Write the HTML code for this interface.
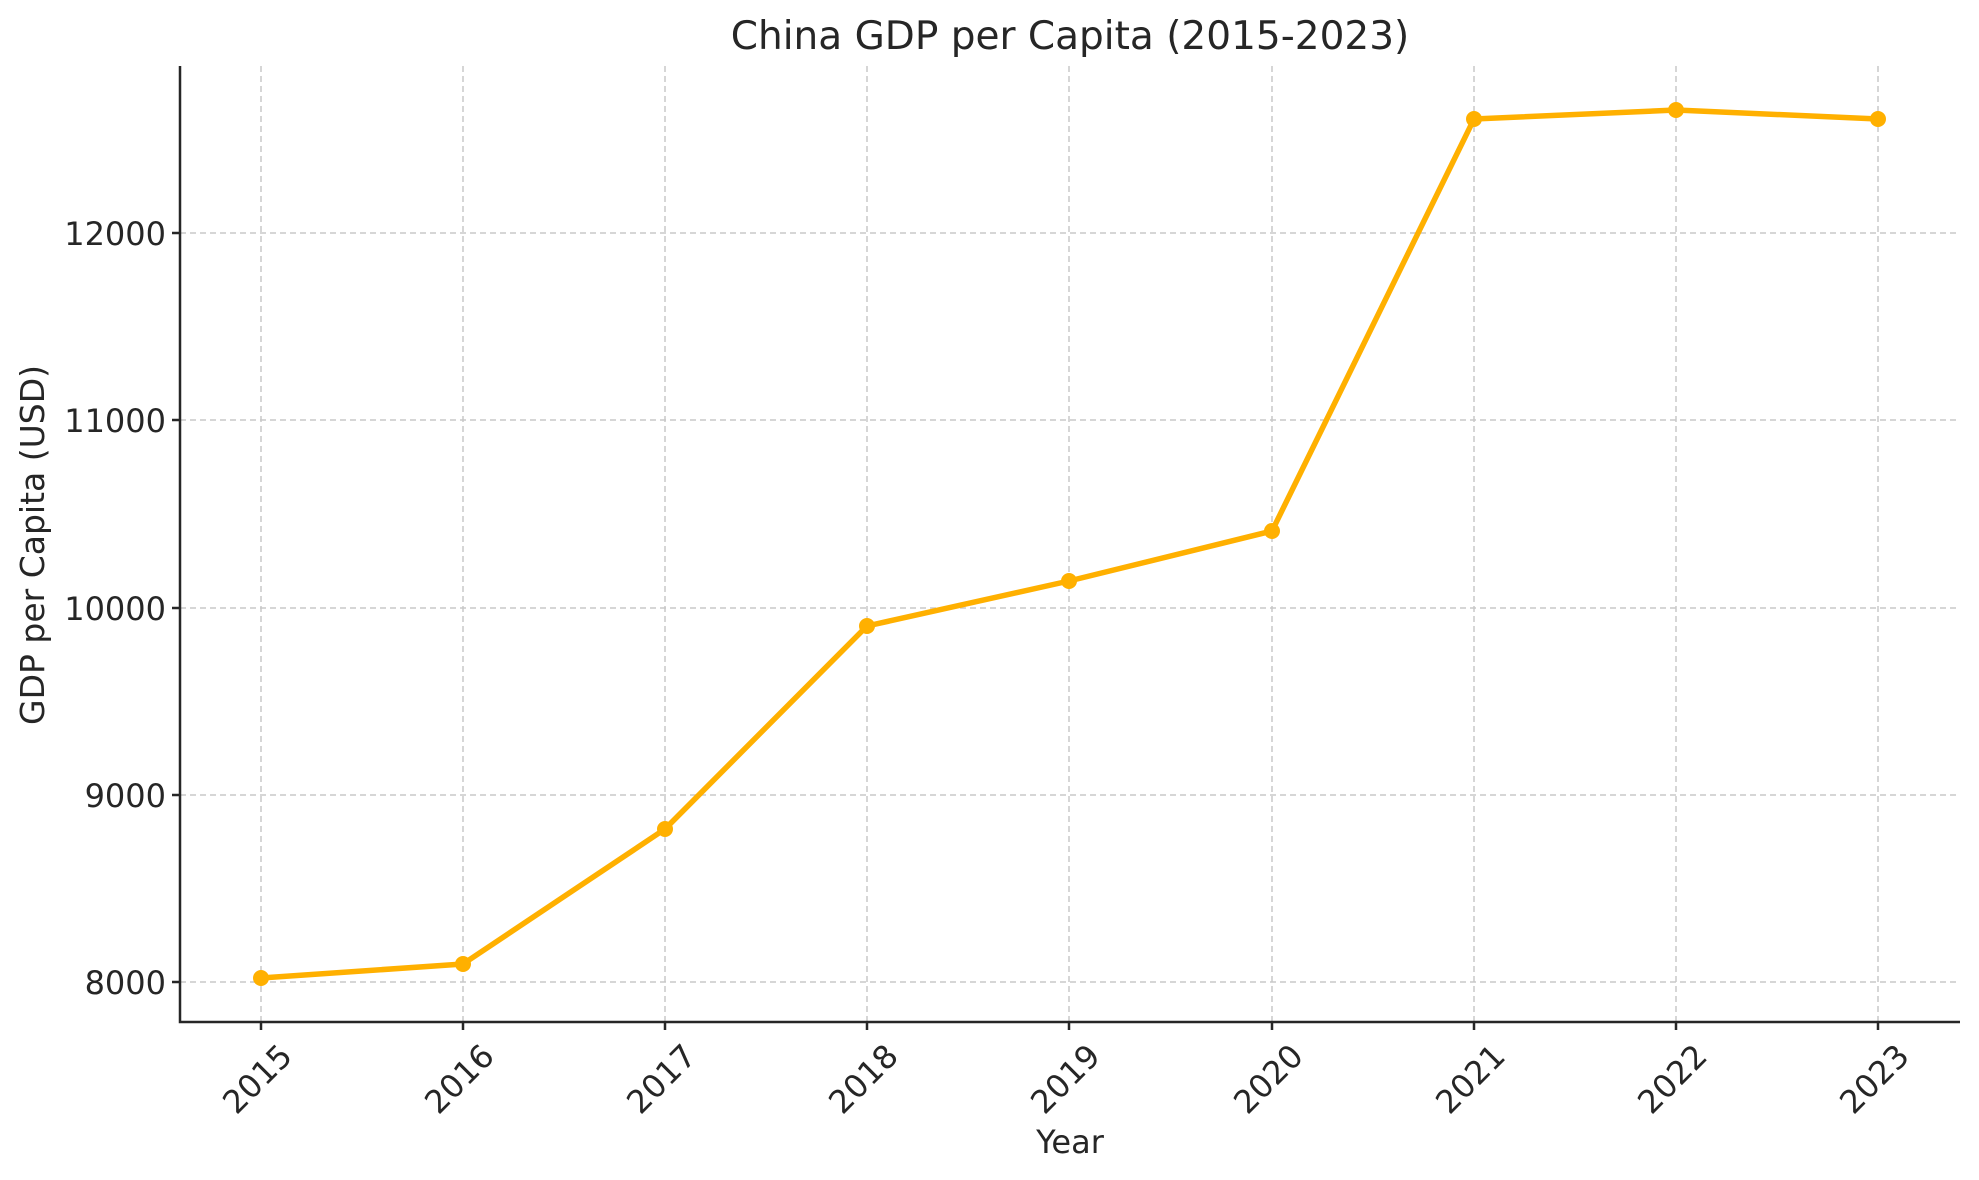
<!DOCTYPE html>
<html><head><meta charset="utf-8"><style>body{margin:0;background:#fff}svg{display:block}text{font-family:"DejaVu Sans","Liberation Sans",sans-serif;fill:#262626}</style></head>
<body>
<svg width="1979" height="1180" viewBox="0 0 1979 1180" xmlns="http://www.w3.org/2000/svg">
<g stroke="#c8c8c8" stroke-width="1.5" stroke-dasharray="6,4">
<line x1="180" x2="1960" y1="982" y2="982"/><line x1="180" x2="1960" y1="795" y2="795"/><line x1="180" x2="1960" y1="608" y2="608"/><line x1="180" x2="1960" y1="420" y2="420"/><line x1="180" x2="1960" y1="233" y2="233"/>
<line x1="261" x2="261" y1="66" y2="1022"/><line x1="463" x2="463" y1="66" y2="1022"/><line x1="665" x2="665" y1="66" y2="1022"/><line x1="867" x2="867" y1="66" y2="1022"/><line x1="1069" x2="1069" y1="66" y2="1022"/><line x1="1272" x2="1272" y1="66" y2="1022"/><line x1="1474" x2="1474" y1="66" y2="1022"/><line x1="1676" x2="1676" y1="66" y2="1022"/><line x1="1878" x2="1878" y1="66" y2="1022"/>
</g>
<g stroke="#262626" stroke-width="2.5" fill="none">
<path d="M180 66 V1022 H1960"/>
<path d="M172 982H180M172 795H180M172 608H180M172 420H180M172 233H180"/>
<path d="M261 1022v8M463 1022v8M665 1022v8M867 1022v8M1069 1022v8M1272 1022v8M1474 1022v8M1676 1022v8M1878 1022v8"/>
</g>
<polyline fill="none" stroke="#ffb000" stroke-width="5.5" stroke-linejoin="round" points="261,978 463,964 665,829 867,626 1069,581 1272,531 1474,119 1676,110 1878,119"/>
<g fill="#ffb000">
<circle cx="261" cy="978" r="8"/><circle cx="463" cy="964" r="8"/><circle cx="665" cy="829" r="8"/><circle cx="867" cy="626" r="8"/><circle cx="1069" cy="581" r="8"/><circle cx="1272" cy="531" r="8"/><circle cx="1474" cy="119" r="8"/><circle cx="1676" cy="110" r="8"/><circle cx="1878" cy="119" r="8"/>
</g>
<g font-size="32" text-anchor="end">
<text x="166" y="994">8000</text><text x="166" y="807">9000</text><text x="166" y="620">10000</text><text x="166" y="432">11000</text><text x="166" y="245">12000</text>
</g>
<g font-size="32" text-anchor="end">
<text transform="translate(294,1058) rotate(-45)">2015</text>
<text transform="translate(496,1058) rotate(-45)">2016</text>
<text transform="translate(698,1058) rotate(-45)">2017</text>
<text transform="translate(900,1058) rotate(-45)">2018</text>
<text transform="translate(1102,1058) rotate(-45)">2019</text>
<text transform="translate(1305,1058) rotate(-45)">2020</text>
<text transform="translate(1507,1058) rotate(-45)">2021</text>
<text transform="translate(1709,1058) rotate(-45)">2022</text>
<text transform="translate(1911,1058) rotate(-45)">2023</text>
</g>
<text x="1070" y="1153" font-size="32" text-anchor="middle">Year</text>
<text transform="translate(44,545) rotate(-90)" font-size="33" text-anchor="middle">GDP per Capita (USD)</text>
<text x="1070" y="49" font-size="39" text-anchor="middle">China GDP per Capita (2015-2023)</text>
</svg>
</body></html>
